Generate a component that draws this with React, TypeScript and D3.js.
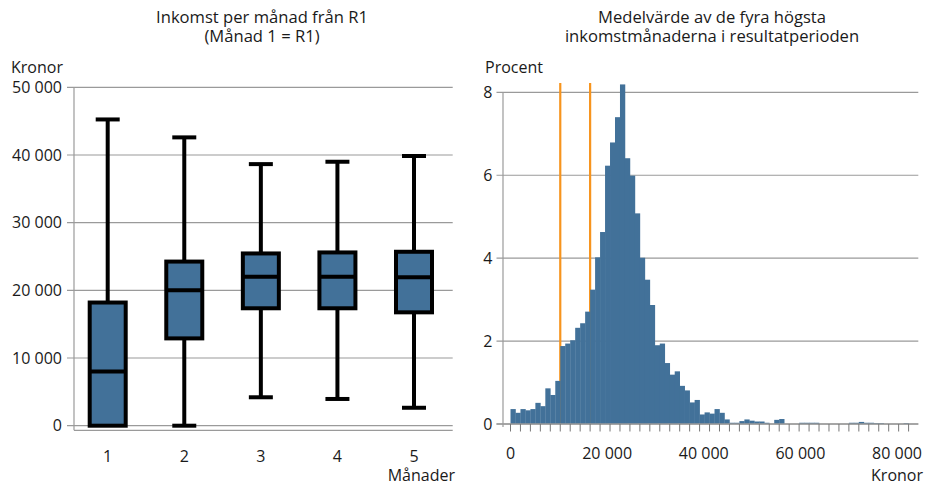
import React from "react";
import * as d3 from "d3";

const months = [1, 2, 3, 4, 5];
const whiskerMin = [0, 0, 4200, 3950, 2650];
const q1 = [0, 12900, 17350, 17350, 16750];
const medians = [8000, 20000, 22000, 22000, 21950];
const q3 = [18200, 24250, 25450, 25600, 25700];
const whiskerMax = [45250, 42600, 38650, 39000, 39850];
const leftTicks = [0, 10000, 20000, 30000, 40000, 50000];

const binWidthKr = 1030;
const histPercent = [
  0.36, 0.27, 0.36, 0.33, 0.36, 0.51, 0.43, 0.86, 0.7, 1.04,
  1.88, 1.94, 2.02, 2.32, 2.43, 2.71, 3.24, 4.02, 4.63, 6.23,
  6.79, 7.4, 8.19, 6.41, 5.99, 5.08, 4.01, 3.48, 2.87, 1.9,
  1.94, 1.47, 1.19, 1.27, 0.92, 0.81, 0.52, 0.58, 0.23, 0.28,
  0.25, 0.36, 0.27, 0.11, 0.03, 0.03, 0.07, 0.11, 0.08, 0.06,
  0.06, 0.03, 0, 0.1, 0.12, 0, 0, 0, 0.03, 0.03,
  0.03, 0.03, 0, 0, 0, 0, 0, 0, 0.03, 0.03,
  0.05, 0.03, 0.03, 0.02, 0.02, 0, 0, 0, 0, 0.02,
];
const orangeLines = [10300, 16480];
const rightYTicks = [0, 2, 4, 6, 8];
const rightXTicks = [0, 20000, 40000, 60000, 80000];

const FONT = "'Open Sans', Lato, sans-serif";
const FS = 16;
const FT = 16.6;
const BLUE = "#427199";
const GRID = "#9a9a9a";
const TXT = "#1a1a1a";

const fmtSp = (v: number) => (v >= 1000 ? d3.format(",")(v).replace(/,/g, " ") : String(v));

export default function App() {
  // Left chart scales
  const xL = d3.scaleLinear().domain([1, 5]).range([107.7, 414]);
  const yL = d3.scaleLinear().domain([0, 50000]).range([425.7, 87.3]);
  const boxW = 36;
  const capW = 24;

  // Right chart scales
  const xR = d3.scaleLinear().domain([0, 80000]).range([510.5, 897]);
  const yR = d3.scaleLinear().domain([0, 8]).range([424, 92.3]);
  const nBins = histPercent.length;
  const binEdges = d3.range(0, nBins + 1, 2).map((k) => k * binWidthKr);

  return (
    <svg
      width={927}
      height={486}
      style={{ position: "absolute", left: 0, top: 0, background: "#fff" }}
      fontFamily={FONT}
    >
      {/* ---------- Left chart ---------- */}
      <text x={262} y={22.5} textAnchor="middle" fontSize={FT} fill={TXT}>
        Inkomst per månad från R1
      </text>
      <text x={262} y={41.5} textAnchor="middle" fontSize={FT} fill={TXT}>
        (Månad 1 = R1)
      </text>
      <text x={11} y={72.5} fontSize={FS} fill={TXT}>
        Kronor
      </text>
      {leftTicks.map((t) => (
        <g key={"lt" + t}>
          <line x1={67} x2={452.7} y1={yL(t)} y2={yL(t)} stroke={GRID} strokeWidth={1.2} />
          <text x={62} y={yL(t) + 5.7} textAnchor="end" fontSize={FS} fill={TXT}>
            {fmtSp(t)}
          </text>
        </g>
      ))}
      <line x1={74} x2={74} y1={yL(50000)} y2={430.3} stroke={GRID} strokeWidth={1.2} />
      <line x1={74} x2={452.7} y1={430.3} y2={430.3} stroke={GRID} strokeWidth={1.2} />
      {months.map((m, i) => {
        const cx = xL(m);
        return (
          <g key={"box" + m}>
            <line x1={cx} x2={cx} y1={yL(whiskerMax[i])} y2={yL(q3[i])} stroke="#000" strokeWidth={4} />
            <line x1={cx} x2={cx} y1={yL(q1[i])} y2={yL(whiskerMin[i])} stroke="#000" strokeWidth={4} />
            <line x1={cx - capW / 2} x2={cx + capW / 2} y1={yL(whiskerMax[i])} y2={yL(whiskerMax[i])} stroke="#000" strokeWidth={4} />
            {whiskerMin[i] < q1[i] ? (
              <line x1={cx - capW / 2} x2={cx + capW / 2} y1={yL(whiskerMin[i])} y2={yL(whiskerMin[i])} stroke="#000" strokeWidth={4} />
            ) : null}
            <rect
              x={cx - boxW / 2}
              y={yL(q3[i])}
              width={boxW}
              height={yL(q1[i]) - yL(q3[i])}
              fill={BLUE}
              stroke="#000"
              strokeWidth={4}
            />
            <line x1={cx - boxW / 2} x2={cx + boxW / 2} y1={yL(medians[i])} y2={yL(medians[i])} stroke="#000" strokeWidth={4} />
            <text x={cx} y={461.5} textAnchor="middle" fontSize={FS} fill={TXT}>
              {m}
            </text>
          </g>
        );
      })}
      <text x={455} y={480.5} textAnchor="end" fontSize={FS} fill={TXT}>
        Månader
      </text>

      {/* ---------- Right chart ---------- */}
      <text x={712} y={22.5} textAnchor="middle" fontSize={FT} fill={TXT}>
        Medelvärde av de fyra högsta
      </text>
      <text x={712} y={41.5} textAnchor="middle" fontSize={FT} fill={TXT}>
        inkomstmånaderna i resultatperioden
      </text>
      <text x={485} y={72.5} fontSize={FS} fill={TXT}>
        Procent
      </text>
      {rightYTicks.map((t) => (
        <g key={"rt" + t}>
          <line x1={496.5} x2={918.3} y1={yR(t)} y2={yR(t)} stroke={GRID} strokeWidth={1.2} />
          <text x={492.5} y={yR(t) + 5.7} textAnchor="end" fontSize={FS} fill={TXT}>
            {t}
          </text>
        </g>
      ))}
      {orangeLines.map((v) => (
        <line key={"or" + v} x1={xR(v)} x2={xR(v)} y1={83} y2={yR(0)} stroke="#F7941D" strokeWidth={2.2} />
      ))}
      {histPercent.map((p, k) =>
        p > 0 ? (
          <rect
            key={"b" + k}
            x={xR(k * binWidthKr)}
            y={yR(p)}
            width={xR((k + 1) * binWidthKr) - xR(k * binWidthKr) + 0.3}
            height={yR(0) - yR(p)}
            fill={BLUE}
          />
        ) : null
      )}
      <line x1={503} x2={503} y1={yR(8)} y2={427} stroke={GRID} strokeWidth={1.2} />
      <line x1={496.5} x2={918.3} y1={yR(0)} y2={yR(0)} stroke={GRID} strokeWidth={1.4} />
      {binEdges.map((e) => (
        <line key={"tk" + e} x1={xR(e)} x2={xR(e)} y1={yR(0)} y2={431.5} stroke="#777" strokeWidth={1} />
      ))}
      {rightXTicks.map((t) => (
        <text key={"xt" + t} x={xR(t)} y={458.5} textAnchor="middle" fontSize={FS} fill={TXT}>
          {fmtSp(t)}
        </text>
      ))}
      <text x={923} y={480.5} textAnchor="end" fontSize={FS} fill={TXT}>
        Kronor
      </text>
    </svg>
  );
}
